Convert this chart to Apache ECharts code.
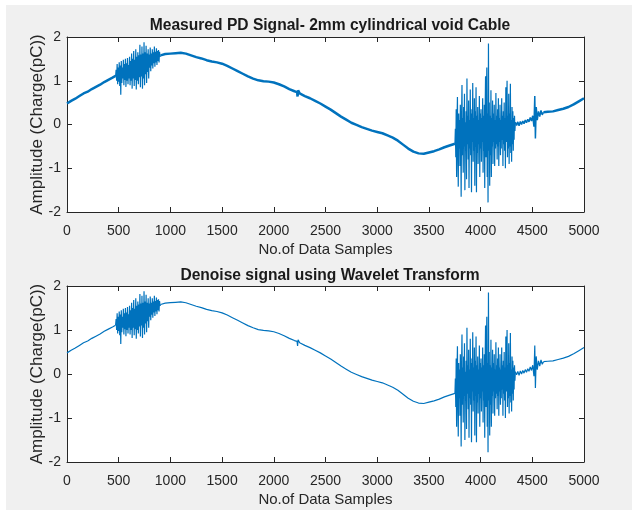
<!DOCTYPE html>
<html><head><meta charset="utf-8">
<script src="https://cdn.jsdelivr.net/npm/echarts@6/dist/echarts.min.js"></script>
<style>
html,body{margin:0;padding:0;background:#fff;}
#bg{position:absolute;left:6px;top:5px;width:626px;height:505px;background:#f0f0f0;}
#c{position:absolute;left:0;top:0;width:632px;height:511px;}
</style>
</head><body><div id="bg"></div><div id="c"></div>
<script>
// ---- text ----
const titles = ['Measured PD Signal- 2mm cylindrical void Cable', 'Denoise signal using Wavelet Transform'];
const xAxisLabel = 'No.of Data Samples';
const yAxisLabel = 'Amplitude (Charge(pC))';
const xRange = [0, 5000], xTickStep = 500;
const yRange = [-2, 2], yTickStep = 1;

// ---- smooth parts of the signal: [sample, amplitude] ----
const riseSegment = [[0,0.48],[40,0.54],[80,0.59],[120,0.65],[160,0.71],[200,0.75],[240,0.81],[280,0.86],[320,0.91],[360,0.97],[400,1.02],[440,1.07],[470,1.11]];
const mainSegment = [[905,1.58],[950,1.61],[1000,1.62],[1050,1.63],[1100,1.64],[1150,1.62],[1200,1.58],[1250,1.54],[1300,1.51],[1350,1.47],[1400,1.44],[1450,1.42],[1500,1.39],[1550,1.34],[1600,1.28],[1650,1.22],[1700,1.16],[1750,1.10],[1800,1.05],[1850,1.01],[1900,0.99],[1950,0.98],[2000,0.96],[2050,0.92],[2100,0.87],[2150,0.81],[2200,0.76],[2225,0.74],[2230,0.64],[2235,0.78],[2250,0.71],[2300,0.65],[2350,0.60],[2400,0.54],[2450,0.48],[2500,0.41],[2550,0.34],[2600,0.26],[2650,0.18],[2700,0.11],[2750,0.04],[2800,-0.01],[2850,-0.06],[2900,-0.10],[2950,-0.14],[3000,-0.17],[3050,-0.20],[3100,-0.25],[3150,-0.30],[3200,-0.37],[3250,-0.46],[3300,-0.55],[3350,-0.62],[3400,-0.66],[3450,-0.67],[3500,-0.64],[3550,-0.61],[3600,-0.57],[3650,-0.52],[3700,-0.48],[3752,-0.44]];
const endSegment = [[4608,0.28],[4650,0.29],[4700,0.30],[4750,0.33],[4800,0.36],[4850,0.40],[4900,0.46],[4950,0.53],[5000,0.60]];

// ---- partial-discharge bursts (sample index = start + i*step) ----
const burst1Start = 470, burst1Step = 5;
const burst1Values = [1.11,1.25,1.00,1.38,0.92,1.30,0.98,1.42,0.88,1.35,0.68,1.45,0.95,1.30,1.05,1.48,0.90,1.38,1.02,1.50,0.86,1.40,1.00,1.52,0.92,1.36,1.05,1.55,0.90,1.45,1.00,1.62,0.82,1.50,1.05,1.68,0.88,1.48,1.02,1.72,0.80,1.55,1.00,1.65,0.92,1.58,1.08,1.82,0.85,1.60,1.10,1.78,0.82,1.62,1.05,1.88,0.90,1.65,1.15,1.80,0.95,1.62,1.20,1.72,1.05,1.60,1.30,1.76,1.22,1.62,1.35,1.72,1.28,1.65,1.40,1.78,1.32,1.66,1.42,1.74,1.36,1.68,1.45,1.70,1.42,1.66,1.55,1.58];
const burst2Start = 3752, burst2Step = 4;
const burst2Values = [-0.44,-0.10,-0.75,0.35,-1.20,0.05,0.63,-0.60,-1.42,0.25,-0.55,0.10,-0.95,0.45,-0.40,-1.65,0.20,0.90,-0.70,0.15,-1.10,0.40,-0.50,0.70,-1.50,0.05,-0.60,0.30,-1.25,1.05,-0.45,0.20,-0.80,0.55,-1.45,0.10,-0.55,0.80,-0.70,0.25,-1.55,0.35,-0.40,0.95,-0.85,0.15,-0.60,0.60,-1.40,0.30,-0.50,0.85,-1.55,0.20,-0.65,0.40,-0.90,0.10,-0.45,0.65,-1.20,0.25,-0.55,0.35,-0.85,0.15,-0.40,0.60,-1.10,0.20,-0.60,0.45,-1.45,0.30,1.10,-0.75,0.35,1.30,-1.20,0.25,-1.78,1.85,-0.60,0.50,-1.40,0.20,-0.70,0.78,-1.20,0.15,-0.50,0.55,-0.90,0.25,-0.40,0.45,-0.95,0.10,-0.55,0.72,-0.45,0.20,-0.80,0.35,-0.50,0.60,-0.95,0.15,-0.40,0.45,-0.70,0.10,-0.55,0.60,-0.35,0.20,-0.95,0.30,-0.45,0.50,-0.60,0.15,-1.00,0.85,-0.40,0.30,1.00,-0.75,0.20,-0.55,0.70,-0.90,0.25,-0.50,0.93,-0.65,0.10,-0.85,0.40,-0.45,0.30,-0.60,0.15,-0.35,0.20,-0.15,0.05];
const afterBurst = [[4336,0.05],[4348,-0.02],[4360,0.06],[4372,-0.03],[4384,0.07],[4396,0.00],[4408,0.08],[4420,0.02],[4432,0.10],[4444,0.04],[4456,0.12],[4468,0.06],[4480,0.16],[4492,0.08],[4504,0.20],[4516,-0.05],[4524,0.65],[4530,-0.32],[4538,0.40],[4548,0.10],[4560,0.30],[4572,0.18],[4584,0.32],[4596,0.22],[4608,0.28]];

function burst(start, step, vals){ return vals.map((v,i)=>[start+i*step, v]); }
const burst1 = burst(burst1Start, burst1Step, burst1Values);
const burst2 = burst(burst2Start, burst2Step, burst2Values);

const FONT = '"Liberation Sans", Arial, Helvetica, sans-serif';
const INK = '#262626';
const BLUE = '#0072BD';

const grids = [
  {left:67, top:37, width:517, height:175},
  {left:67, top:286, width:517, height:176}
];

function xAx(gi, pos){
  const main = pos === 'bottom';
  return {
    type:'value', gridIndex:gi, position:pos, min:xRange[0], max:xRange[1], interval:xTickStep,
    name: main ? xAxisLabel : '', nameLocation:'middle', nameGap:30, nameMoveOverlap:false,
    nameTextStyle:{fontFamily:FONT, fontSize:15, color:INK},
    axisLine:{show:true, onZero:false, lineStyle:{color:INK, width:1}},
    axisTick:{show:true, inside:true, length:5, lineStyle:{color:INK}},
    axisLabel:{show:main, margin:12, fontFamily:FONT, fontSize:14, color:INK, formatter:v=>String(v)},
    splitLine:{show:false}
  };
}
function yAx(gi, pos){
  const main = pos === 'left';
  return {
    type:'value', gridIndex:gi, position:pos, min:yRange[0], max:yRange[1], interval:yTickStep,
    name: main ? yAxisLabel : '', nameLocation:'middle', nameGap:21, nameMoveOverlap:false,
    nameTextStyle:{fontFamily:FONT, fontSize:17, color:INK},
    axisLine:{show:true, onZero:false, lineStyle:{color:INK, width:1}},
    axisTick:{show:true, inside:true, length:5, lineStyle:{color:INK}},
    axisLabel:{show:main, margin:6, fontFamily:FONT, fontSize:14, color:INK, formatter:v=>String(v)},
    splitLine:{show:false}
  };
}
function line(gi, data, w){
  return {type:'line', xAxisIndex:gi*2, yAxisIndex:gi*2, data:data, showSymbol:false, symbol:'none',
    lineStyle:{color:BLUE, width:w}, itemStyle:{color:BLUE}, animation:false, silent:true, z:3};
}

const series = [
  // measured (noisy) signal
  line(0, riseSegment, 2.5), line(0, burst1, 1.2), line(0, mainSegment, 2.5),
  line(0, burst2, 1.2), line(0, afterBurst, 1.5), line(0, endSegment, 2.5),
  // denoised signal
  line(1, riseSegment, 1.2), line(1, burst1, 1.2), line(1, mainSegment, 1.2),
  line(1, burst2, 1.2), line(1, afterBurst, 1.2), line(1, endSegment, 1.2)
];

const chart = echarts.init(document.getElementById('c'), null, {renderer:'canvas'});
chart.setOption({
  animation:false,
  backgroundColor:'transparent',
  title:[
    {text:titles[0], left:325, top:13, textAlign:'center', textStyle:{fontFamily:FONT, fontSize:15.6, fontWeight:'bold', color:'#1a1a1a'}},
    {text:titles[1], left:325, top:263, textAlign:'center', textStyle:{fontFamily:FONT, fontSize:15.6, fontWeight:'bold', color:'#1a1a1a'}}
  ],
  grid: grids.map(g=>Object.assign({show:true, backgroundColor:'#fff', borderWidth:0}, g)),
  xAxis:[xAx(0,'bottom'), xAx(0,'top'), xAx(1,'bottom'), xAx(1,'top')],
  yAxis:[yAx(0,'left'), yAx(0,'right'), yAx(1,'left'), yAx(1,'right')],
  series: series
});
</script>
</body></html>
